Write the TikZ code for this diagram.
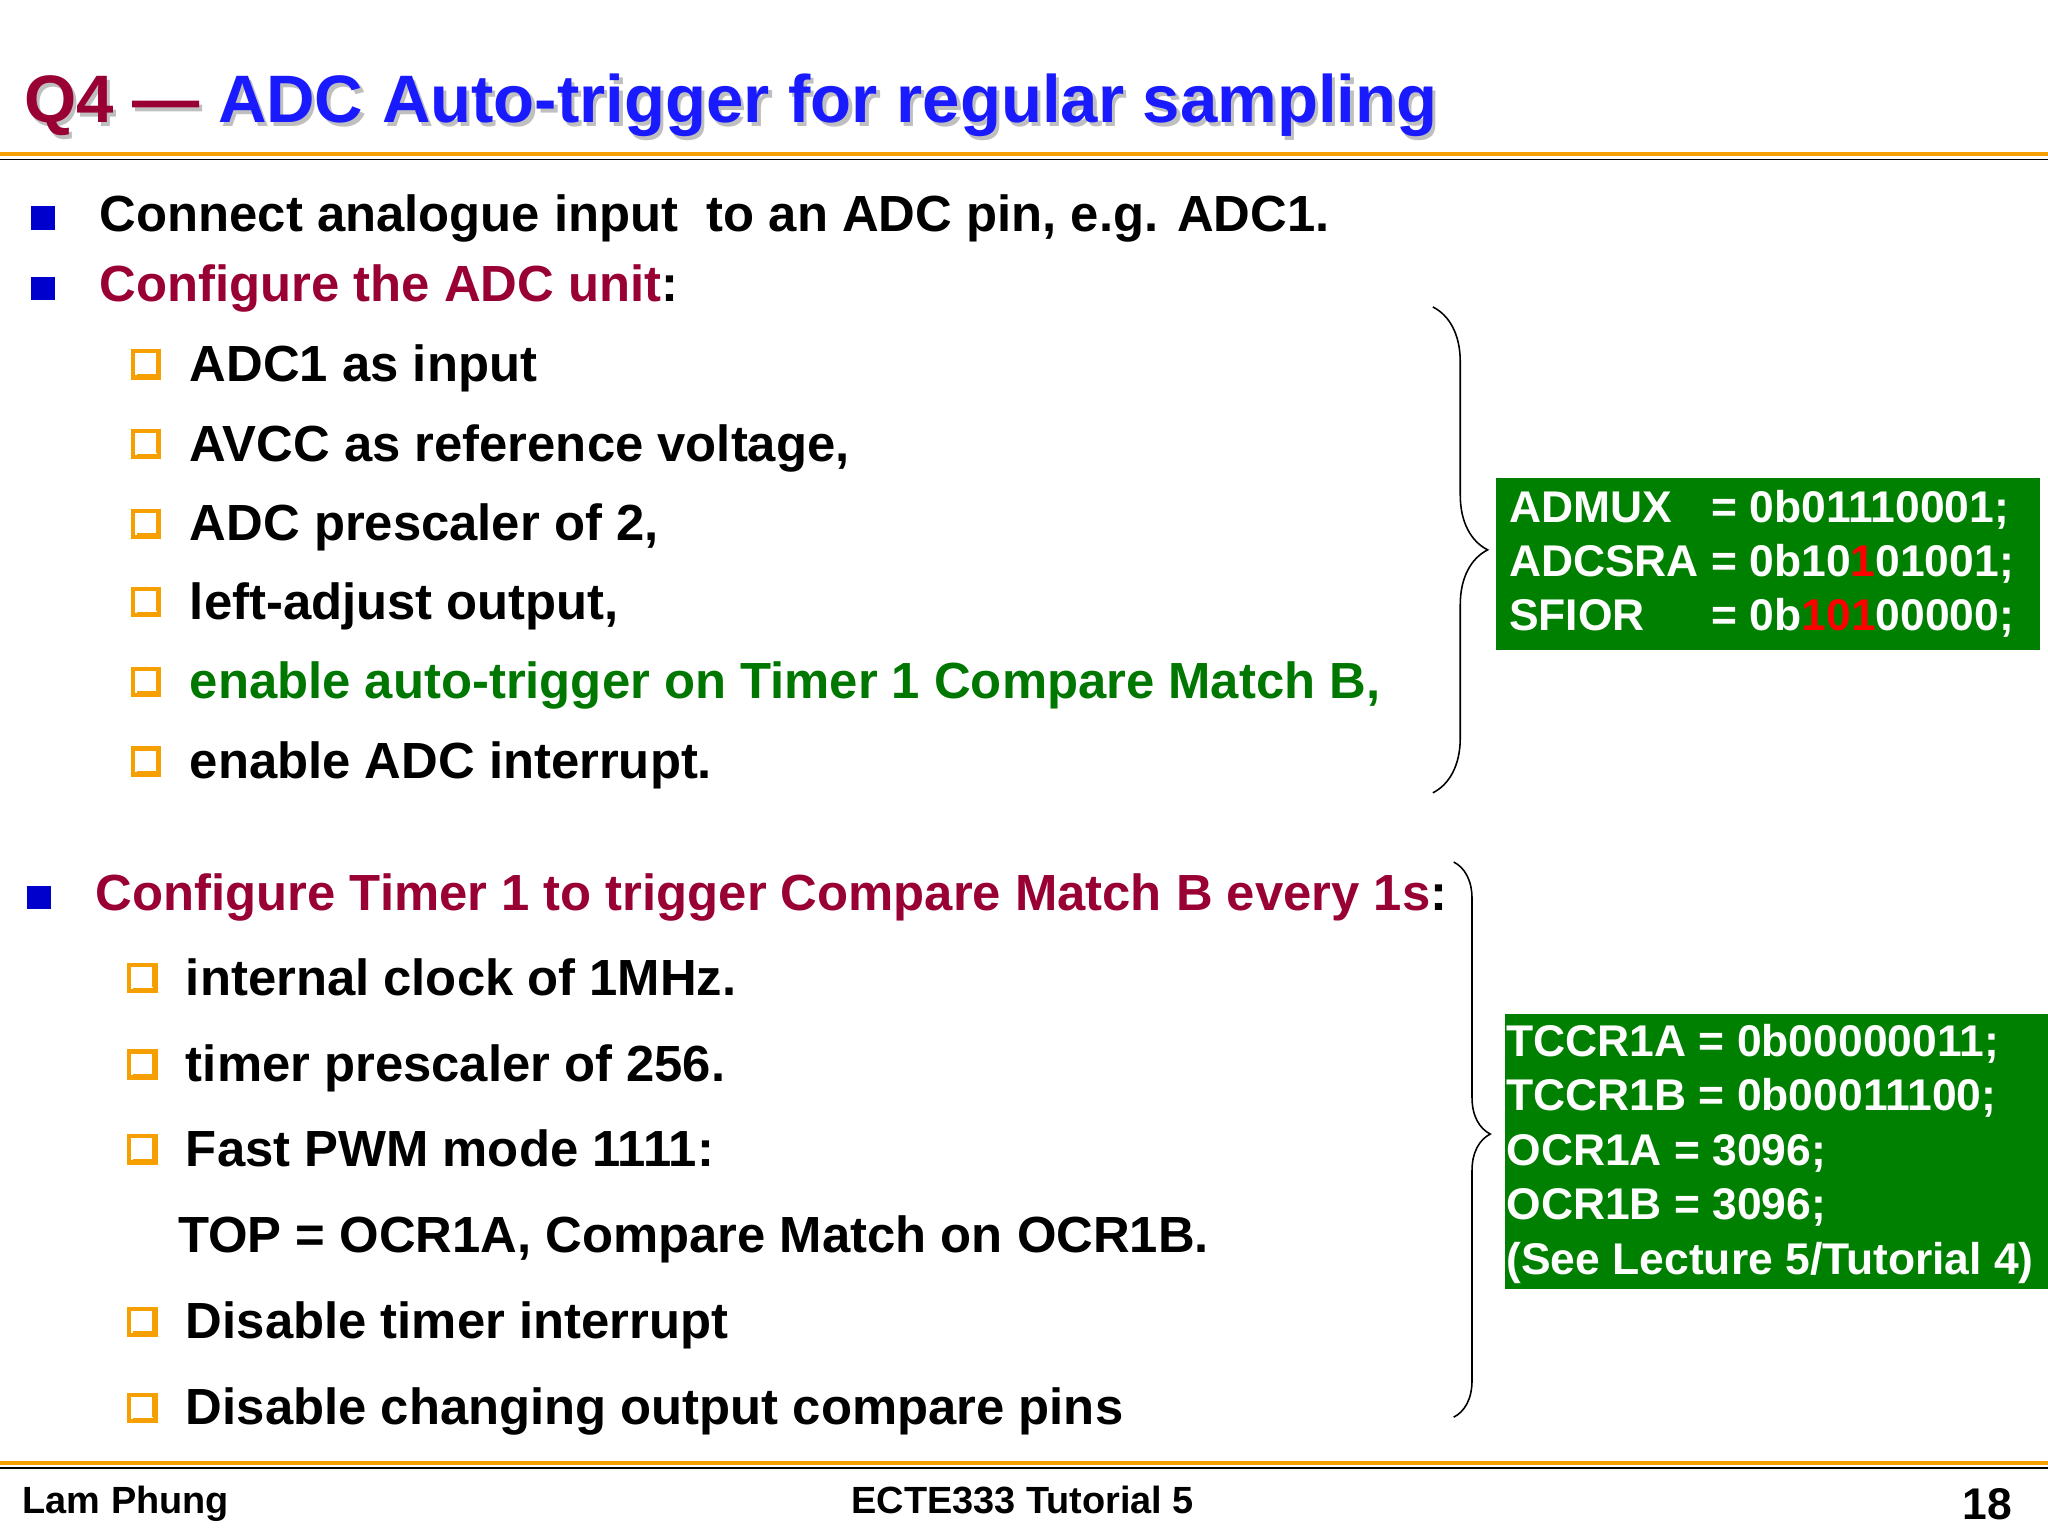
\documentclass[tikz,border=0pt]{standalone}
\usepackage{fontspec}
\setmainfont{Liberation Sans}
\usetikzlibrary{decorations.pathreplacing}
\definecolor{dred}{HTML}{990033}
\definecolor{tblue}{HTML}{1A1AFF}
\definecolor{bblue}{HTML}{0000CC}
\definecolor{org}{HTML}{F5A000}
\definecolor{dgreen}{HTML}{007700}
\definecolor{gbox}{HTML}{008000}
\begin{document}
\begin{tikzpicture}[x=0.5pt,y=-0.5pt,
  txt/.style={anchor=base west,inner sep=0,font=\fontsize{19.45}{22}\selectfont\bfseries},
  code/.style={anchor=base west,inner sep=0,font=\fontsize{17}{20}\selectfont\bfseries,text=white},
  foot/.style={anchor=base,inner sep=0,font=\fontsize{14.5}{16}\selectfont\bfseries},
  sq/.style={fill=bblue,minimum size=9pt,inner sep=0},
  cb/.style={draw=org,line width=1.6pt,minimum size=10pt,inner sep=0,
    path picture={\draw[org,line width=2.6pt] ([xshift=1.5pt]path picture bounding box.south west) -- ([xshift=1.5pt]path picture bounding box.south east);
                  \draw[org,line width=2.6pt] ([yshift=1.5pt]path picture bounding box.south east) -- ([yshift=1.5pt]path picture bounding box.north east);}},
  br/.style 2 args={decorate,decoration={brace,amplitude=#2,aspect=#1},line width=0.6pt}]
\useasboundingbox (0,0) rectangle (1568,1176);
\fill[white] (0,0) rectangle (1568,1176);
% title
\node[anchor=base west,inner sep=0,font=\fontsize{25.7}{30}\selectfont\bfseries,text=black!25] (tsh) at (20.5,96.5)
 {Q4 --- ADC Auto-trigger for regular sampling};
\node[anchor=base west,inner sep=0,font=\fontsize{25.7}{30}\selectfont\bfseries] (title) at (18,94)
 {\textcolor{dred}{Q4 ---} \textcolor{tblue}{ADC Auto-trigger for regular sampling}};
\draw[org,line width=1.6pt] (0,118) -- (1568,118);
\draw[black,line width=0.6pt] (0,122) -- (1568,122);
\draw[org,line width=1.6pt] (0,1120) -- (1568,1120);
\draw[black,line width=0.6pt] (0,1124) -- (1568,1124);
% bullets
\node[sq] (s1) at (33,167) {};
\node[txt] (t1) at (76,177) {Connect analogue input\ \ to an ADC pin, e.g. ADC1.};
\node[sq] (s2) at (33,221) {};
\node[txt] (t2) at (76,231) {\textcolor{dred}{Configure the ADC unit}:};
\foreach \y/\t [count=\i] in {279/ADC1 as input,340/{AVCC as reference voltage,},401/{ADC prescaler of 2,},461/{left-adjust output,},522/{\textcolor{dgreen}{enable auto-trigger on Timer 1 Compare Match B,}},583/enable ADC interrupt.}{
  \node[cb] (c\i) at (112,\y) {};
  \node[txt] (a\i) at (145,\y+13) {\t};
}
\node[sq] (s3) at (30,687) {};
\node[txt] (t3) at (73,697) {\textcolor{dred}{Configure Timer 1 to trigger Compare Match B every 1s}:};
\foreach \y/\t [count=\i] in {749/internal clock of 1MHz.,815/timer prescaler of 256.,880/Fast PWM mode 1111:,1012/Disable timer interrupt,1078/Disable changing output compare pins}{
  \node[cb] (d\i) at (109,\y) {};
  \node[txt] (b\i) at (142,\y+13) {\t};
}
\node[txt] (b6) at (136,959) {TOP = OCR1A, Compare Match on OCR1B.};
% braces
\coordinate (u1) at (1097,235); \coordinate (u2) at (1097,607);
\draw[br={0.5}{21pt}] (u1) -- (u2);
\coordinate (v1) at (1113,660); \coordinate (v2) at (1113,1085);
\draw[br={0.49}{14pt}] (v1) -- (v2);
% green boxes
\fill[gbox] (1145,366) rectangle (1562,498);
\node[code] (g1) at (1155,400) {ADMUX};
\node[code] (g1b) at (1310,400) {= 0b01110001;};
\node[code] (g2) at (1155,441) {ADCSRA = 0b10\textcolor{red}{1}01001;};
\node[code] (g3) at (1155,483) {SFIOR};
\node[code] (g3b) at (1310,483) {= 0b\textcolor{red}{101}00000;};
\fill[gbox] (1152,776) rectangle (1568,987);
\node[code] (h1) at (1153,809) {TCCR1A = 0b00000011;};
\node[code] (h2) at (1153,850) {TCCR1B = 0b00011100;};
\node[code] (h3) at (1153,892) {OCR1A = 3096;};
\node[code] (h4) at (1153,934) {OCR1B = 3096;};
\node[code] (h5) at (1153,976) {(See Lecture 5/Tutorial 4)};
% footer
\node[foot,anchor=base west] (f1) at (17,1159) {Lam Phung};
\node[foot] (f2) at (783,1159) {ECTE333 Tutorial 5};
\node[foot,anchor=base east,font=\fontsize{17}{18}\selectfont\bfseries] (f3) at (1541,1163) {18};
\end{tikzpicture}
\end{document}
